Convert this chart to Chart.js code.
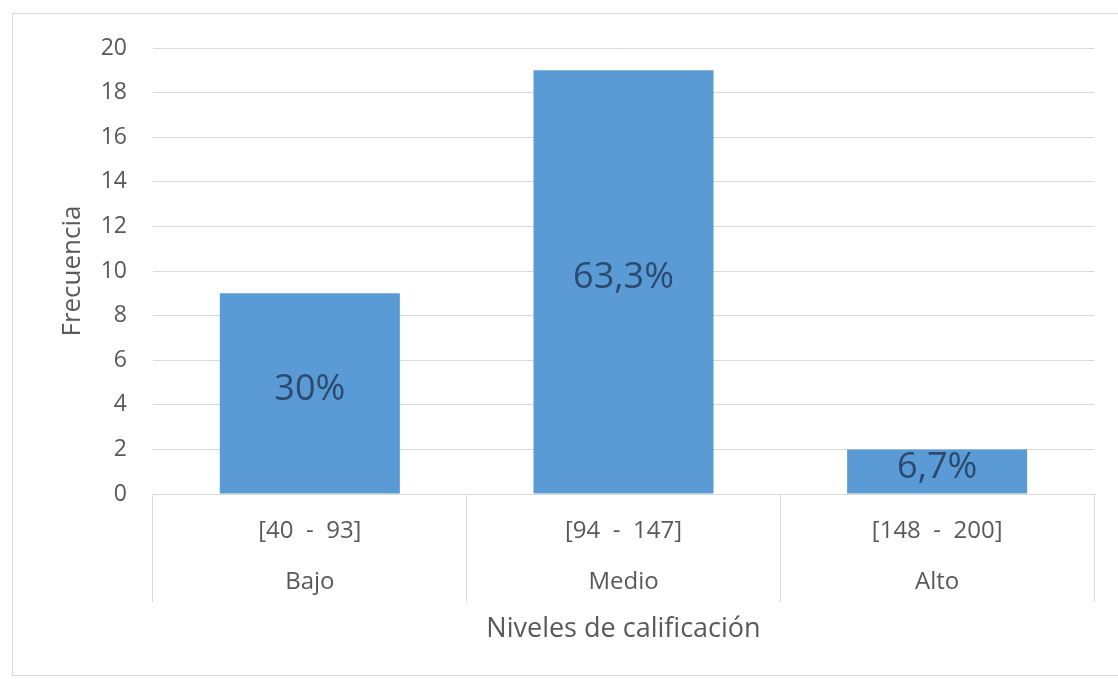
<!DOCTYPE html>
<html>
<head>
<meta charset="utf-8">
<title>Niveles de calificación</title>
<script src="https://cdn.jsdelivr.net/npm/chart.js@4/dist/chart.umd.min.js"></script>
<style>
  body { margin: 0; background: #fff; }
  #chart { display: block; }
</style>
</head>
<body>
<canvas id="chart" width="1118" height="679"></canvas>
<script>
// Data
const rangos = ['[40  -  93]', '[94  -  147]', '[148  -  200]'];
const niveles = ['Bajo', 'Medio', 'Alto'];
const frecuencias = [9, 19, 2];
const porcentajes = ['30%', '63,3%', '6,7%'];

const textColor = '#595959';
const lineColor = '#d9d9d9';

// Outer frame of the chart (cropped on the right in the original)
const framePlugin = {
    id: 'frame',
    beforeDraw(chart) {
        const ctx = chart.ctx;
        ctx.save();
        ctx.strokeStyle = lineColor;
        ctx.lineWidth = 1;
        ctx.strokeRect(12.5, 13.5, chart.width + 10, 662);
        ctx.restore();
    }
};

// Percentage labels centred in each bar
const barLabels = {
    id: 'barLabels',
    afterDatasetsDraw(chart) {
        const ctx = chart.ctx;
        const meta = chart.getDatasetMeta(0);
        ctx.save();
        ctx.font = '36px "Open Sans"';
        ctx.fillStyle = '#2b4a6f';
        ctx.textAlign = 'center';
        ctx.textBaseline = 'middle';
        meta.data.forEach((bar, i) => {
            const mid = (bar.y + bar.base) / 2 - 4;
            ctx.fillText(porcentajes[i], bar.x, mid);
        });
        ctx.restore();
    }
};

const ctx = document.getElementById('chart').getContext('2d');
const chart = new Chart(ctx, {
    type: 'bar',
    data: {
        labels: rangos.map((r, i) => [r, niveles[i]]),
        datasets: [{
            label: 'Frecuencia',
            data: frecuencias,
            backgroundColor: '#5b9bd5',
            borderWidth: 0,
            categoryPercentage: 1,
            barPercentage: 0.574
        }]
    },
    options: {
        responsive: false,
        animation: false,
        layout: {
            padding: { left: 0, right: 24, top: 48, bottom: 0 }
        },
        plugins: {
            legend: { display: false },
            tooltip: { enabled: false }
        },
        scales: {
            x: {
                offset: true,
                border: { display: true, color: lineColor },
                grid: {
                    offset: true,
                    drawOnChartArea: false,
                    drawTicks: true,
                    tickLength: 108,
                    color: lineColor
                },
                ticks: {
                    color: textColor,
                    font: { family: 'Open Sans', size: 24, lineHeight: 2.125 },
                    padding: -96,
                    maxRotation: 0,
                    autoSkip: false
                },
                title: {
                    display: true,
                    text: 'Niveles de calificación',
                    color: textColor,
                    font: { family: 'Open Sans', size: 27 },
                    padding: { top: 0, bottom: 33 }
                },
                afterFit(scale) {
                    scale.height = 185;
                }
            },
            y: {
                min: 0,
                max: 20,
                border: { display: false },
                grid: {
                    color: lineColor,
                    drawTicks: false
                },
                ticks: {
                    stepSize: 2,
                    color: textColor,
                    font: { family: 'Open Sans', size: 23 },
                    padding: 26
                },
                title: {
                    display: true,
                    text: 'Frecuencia',
                    color: textColor,
                    font: { family: 'Open Sans', size: 26 },
                    padding: { top: 57, bottom: 0 }
                },
                afterFit(scale) {
                    scale.width = 153;
                }
            }
        }
    },
    plugins: [framePlugin, barLabels]
});
</script>
</body>
</html>
